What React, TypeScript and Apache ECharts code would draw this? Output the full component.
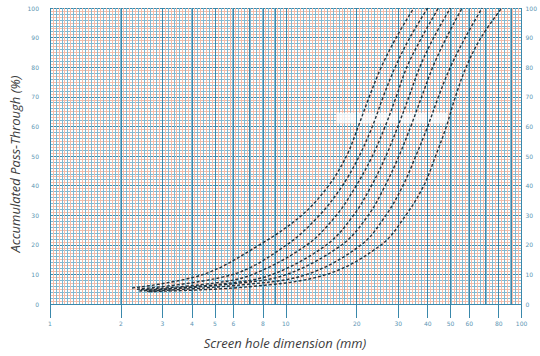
import React, { useEffect, useRef } from 'react';
import * as echarts from 'echarts';

// x tick labels (mm, log scale)
const xTickLabels = [1, 2, 3, 4, 5, 6, 8, 10, 20, 30, 40, 50, 60, 80, 100];
const xMajorLines = [1, 2, 3, 4, 5, 6, 7, 8, 9, 10, 20, 30, 40, 50, 60, 70, 80, 90, 100];

// grading curves: [screen hole mm, accumulated pass-through %]
const curveA = [[2.23, 5.4], [4.47, 10], [7.74, 20], [11.7, 30], [15.2, 40], [18.1, 50], [20.3, 60], [22.6, 70], [25.4, 80], [29.4, 90], [34.9, 100]];
const curveB = [[2.34, 5], [5.97, 10], [10.1, 20], [13.9, 30], [17.4, 40], [20.5, 50], [23.3, 60], [25.9, 70], [29.1, 80], [33.6, 90], [40.0, 100]];
const curveC = [[2.43, 4.8], [4.9, 7], [7.24, 10], [12.3, 20], [16.4, 30], [19.9, 40], [23.3, 50], [26.4, 60], [29.4, 70], [32.6, 80], [37.7, 90], [44.4, 100]];
const curveD = [[2.5, 4.6], [5.7, 7], [8.78, 10], [14.9, 20], [19.4, 30], [23.1, 40], [26.6, 50], [29.9, 60], [33.3, 70], [37.0, 80], [42.4, 90], [49.9, 100]];
const curveE = [[2.39, 4.4], [6.26, 7], [10.1, 10], [17.3, 20], [22.4, 30], [26.4, 40], [30.2, 50], [33.9, 60], [37.7, 70], [42.0, 80], [48.0, 90], [56.0, 100]];
const curveF = [[2.58, 4.3], [6.57, 6.5], [12.3, 10], [20.9, 20], [26.6, 30], [31.4, 40], [35.6, 50], [40.0, 60], [44.4, 70], [49.9, 80], [57.7, 90], [68.0, 100]];
const curveG = [[2.63, 4.2], [6.9, 5.8], [14.9, 10], [25.4, 20], [32.3, 30], [38.5, 40], [43.2, 50], [48.0, 60], [52.4, 70], [58.2, 80], [67.3, 90], [82.4, 100]];
const curves = [curveA, curveB, curveC, curveD, curveE, curveF, curveG];
const curveNames = ['A', 'B', 'C', 'D', 'E', 'F', 'G'];

// label band (mm range, % range)
const bandX = [16.4, 48.6];
const bandY = [61.0, 64.6];

const BLUE = '#80b8d1';
const PINK = '#f3bca9';
const DARK = '#3a88ab';
const LABEL = '#5b95b3';

export default function App() {
  const ref = useRef<HTMLDivElement>(null);
  useEffect(() => {
    const chart = echarts.init(ref.current!, null, { renderer: 'svg' });
    const blueV: number[] = [];
    const pinkV: number[] = [];
    for (let k = 0; k <= 160; k++) {
      const v = +Math.pow(10, k / 80).toFixed(5);
      if (k % 2 === 0) blueV.push(v); else pinkV.push(v);
    }
    const gridAxis = (vals: number[], color: string, z: number) => ({
      type: 'log', logBase: 10, min: 1, max: 100, gridIndex: 0, position: 'bottom', z,
      axisLine: { show: false },
      axisLabel: { show: false },
      axisTick: { show: false, customValues: vals },
      splitLine: { show: true, lineStyle: { color, width: 1 } },
    });

    const yAxisBase = { type: 'value', min: 0, max: 100, gridIndex: 0 };
    chart.setOption({
      animation: false,
      grid: { left: 50, right: 13, top: 8, bottom: 52 },
      xAxis: [
        {
          type: 'log', logBase: 10, min: 1, max: 100, position: 'bottom', z: 4,
          axisLine: { show: false },
          splitLine: { show: false },
          axisTick: { show: true, customValues: xTickLabels, length: 14, lineStyle: { color: DARK, width: 1 } },
          axisLabel: { show: true, customValues: xTickLabels, fontSize: 6, color: LABEL, margin: 16, fontFamily: 'DejaVu Sans' },
        },
        gridAxis(blueV, BLUE, 1),
        gridAxis(pinkV, PINK, 1),
        gridAxis(xMajorLines, DARK, 2),
      ],
      yAxis: [
        {
          ...yAxisBase, interval: 1, position: 'left',
          axisLabel: { show: false }, axisTick: { show: false }, axisLine: { show: false },
          splitLine: { show: true, lineStyle: { width: 1, color: [DARK, PINK, BLUE, PINK, BLUE, PINK, BLUE, PINK, BLUE, PINK] } },
        },
        {
          ...yAxisBase, interval: 10, position: 'left',
          axisLabel: { show: true, fontSize: 6, color: LABEL, margin: 11, fontFamily: 'DejaVu Sans' },
          axisTick: { show: false }, axisLine: { show: false }, splitLine: { show: false },
        },
        {
          ...yAxisBase, interval: 10, position: 'right',
          axisLabel: { show: true, fontSize: 6, color: LABEL, margin: 4, fontFamily: 'DejaVu Sans' },
          axisTick: { show: false }, axisLine: { show: false }, splitLine: { show: false },
        },
      ],
      series: [
        ...curves.map((c, i) => ({
          type: 'line', name: curveNames[i], data: c, showSymbol: false, smooth: 0.35, z: 3,
          lineStyle: { color: '#22323c', width: 1.4, type: [3, 2] },
        })),
        {
          type: 'line', name: 'band', data: [[1, 0]], showSymbol: false, z: 5, silent: true,
          lineStyle: { opacity: 0 },
          markArea: {
            silent: true,
            itemStyle: { color: 'rgba(255,255,255,0.75)' },
            data: [[{ coord: [bandX[0], bandY[0]] }, { coord: [bandX[1], bandY[1]] }]],
          },
        },
      ],
      graphic: [
        {
          type: 'text', x: 15, y: 164, rotation: Math.PI / 2,
          style: { text: 'Accumulated Pass-Through (%)', fontSize: 13, fontStyle: 'italic', fontFamily: 'Open Sans', fill: '#3d3d3d', textAlign: 'center', textVerticalAlign: 'middle' },
        },
        {
          type: 'text', x: 285, y: 343,
          style: { text: 'Screen hole dimension (mm)', fontSize: 13, fontStyle: 'italic', fontFamily: 'Open Sans', fill: '#3d3d3d', textAlign: 'center', textVerticalAlign: 'middle' },
        },
      ],
    });
    return () => chart.dispose();
  }, []);
  return <div ref={ref} style={{ position: 'fixed', left: 0, top: 0, width: 540, height: 356, background: '#fff' }} />;
}
